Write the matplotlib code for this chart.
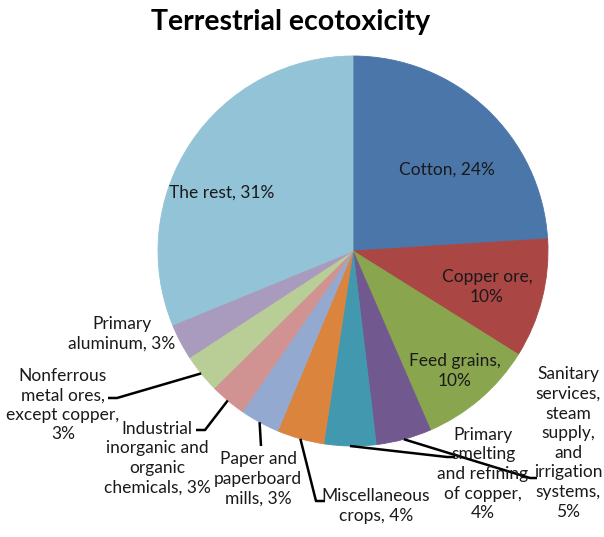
import matplotlib
matplotlib.use("Agg")
import matplotlib.pyplot as plt
import numpy as np

plt.rcParams['font.family'] = ['Lato', 'DejaVu Sans']

# Slice data, clockwise from the top
names = ["Cotton, {}%", "Copper ore,\n{}%", "Feed grains,\n{}%",
         "Sanitary\nservices,\nsteam\nsupply,\nand\nirrigation\nsystems,\n{}%",
         "Primary\nsmelting\nand refining\nof copper,\n{}%",
         "Miscellaneous\ncrops, {}%", "Paper and\npaperboard\nmills, {}%",
         "Industrial\ninorganic and\norganic\nchemicals, {}%",
         "Nonferrous\nmetal ores,\nexcept copper,\n{}%",
         "Primary\naluminum, {}%", "The rest, {}%"]
shares = [24.0, 9.9, 9.6, 4.6, 4.3, 3.9, 3.3, 3.0, 3.2, 3.0, 31.2]
colors = ["#4A76AA", "#AA4643", "#89A54E", "#71588F", "#4198AF", "#DB843D",
          "#93A9CF", "#D19392", "#B9CD96", "#A99BBD", "#93C3D6"]

# label centres in pixels, leader elbow/end in pixels (None = no leader)
label_px = [(447, 170), (487, 287), (455, 371), (568, 443), (483, 474),
            (376, 506), (258, 479), (157, 458), (63, 405), (122, 334), (222, 193)]
leader_px = [None, None, None,
             [(530, 478), (537, 478)], [(447, 457), (455, 457)],
             [(316, 501), (325, 501)], [(261, 446), (261, 446)],
             [(205, 430), (196, 430)], [(117, 398), (108, 398)],
             None, None]

W, H = 604, 537
cx, cy, R = 353, 251, 195

def to_data(p):
    return ((p[0] - cx) / R, (cy - p[1]) / R)

fig = plt.figure(figsize=(W / 100, H / 100), dpi=100)
ax = fig.add_axes([(cx - R) / W, (H - cy - R) / H, 2 * R / W, 2 * R / H])
wedges, _ = ax.pie(shares, colors=colors, startangle=90, counterclock=False,
                   radius=1)
for w in wedges:
    # edge in the slice colour hides the antialiasing seams
    w.set_edgecolor(w.get_facecolor())
    w.set_linewidth(0.6)
ax.set_xlim(-1, 1)
ax.set_ylim(-1, 1)
ax.axis("off")

for w, name, v, lp, ld in zip(wedges, names, shares, label_px, leader_px):
    x, y = to_data(lp)
    ax.text(x, y, name.format(round(v)), ha="center", va="center",
            fontsize=12.5, color="#1a1a1a", linespacing=1.28)
    if ld is not None:
        mid = np.deg2rad((w.theta1 + w.theta2) / 2)
        pts = [(np.cos(mid), np.sin(mid))] + [to_data(p) for p in ld]
        ax.plot([p[0] for p in pts], [p[1] for p in pts], color="black",
                lw=1.8, clip_on=False, solid_capstyle="butt")

fig.text(291 / W, 1 - 22 / H, "Terrestrial ecotoxicity", ha="center",
         va="center", fontsize=20.5, fontweight="bold", color="black")

fig.savefig("out.png", dpi=100)
